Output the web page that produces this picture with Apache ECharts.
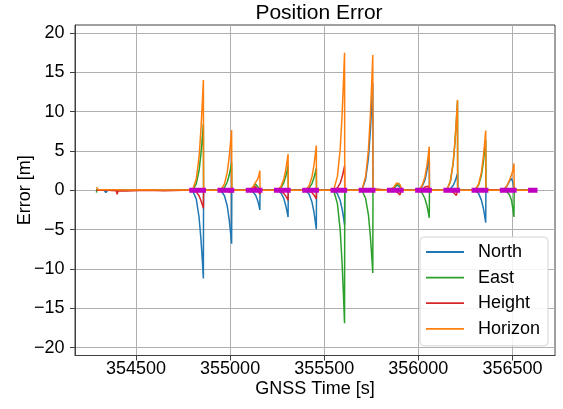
<!DOCTYPE html>
<html>
<head>
<meta charset="utf-8">
<script src="https://cdn.jsdelivr.net/npm/echarts@6/dist/echarts.min.js"></script>
<style>
html,body{margin:0;padding:0;background:#fff;}
#chart{width:563px;height:409px;}
</style>
</head>
<body>
<div id="chart"></div>
<script>
const times = [
  354290,354292,354300,354330,354340,354350,354395,354400,354405,354450,354550,354650,354750,
  354800,354820,354835,354845,354852,354858,354859,
  354950,354970,354985,354995,355002,355008,355009,
  355100,355120,355135,355145,355152,355158,355159,
  355250,355270,355285,355295,355302,355308,355309,
  355400,355420,355435,355445,355452,355458,355459,
  355550,355570,355585,355595,355602,355608,355609,
  355700,355720,355735,355745,355752,355758,355759,
  355850,355870,355885,355895,355902,355908,355909,
  356000,356020,356035,356045,356052,356058,356059,
  356150,356170,356185,356195,356202,356208,356209,
  356300,356320,356335,356345,356352,356358,356359,
  356450,356470,356485,356495,356502,356508,356509,
  356600,356625
];
const north = [
  0,0.05,0,0,-0.3,0,0,0.05,0,0,0.02,0,0,
  0,-1.1,-3.4,-6.2,-8.7,-11.2,0,
  0,-0.7,-2.0,-3.7,-5.3,-6.8,0,
  0,-0.2,-0.6,-1.2,-1.8,-2.5,0,
  0,-0.35,-1.0,-1.9,-2.65,-3.4,0,
  0,-0.5,-1.5,-2.7,-3.9,-4.95,0,
  0,-0.45,-1.3,-2.4,-3.4,-4.4,0,
  0,1.4,4.1,7.5,10.6,13.6,0,
  0,0.3,0.7,0.6,0.4,0.2,0,
  0,0.45,1.3,2.4,3.35,4.3,0,
  0,0.2,0.6,1.15,1.65,2.1,0,
  0,-0.4,-1.25,-2.25,-3.2,-4.1,0,
  0,0.5,1.2,1.5,1.0,0.3,0,
  0,0
];
const east = [
  -0.3,0.1,0,0,0.05,0,0,0,0,0,0,0,0,
  0,0.8,2.5,4.6,6.6,8.4,0,
  0,0.35,1.05,1.9,2.7,3.5,0,
  0,0.3,0.8,0.6,0.3,0.1,0,
  0,0.3,0.95,1.7,2.4,3.1,0,
  0,0.3,0.85,1.55,2.2,2.8,0,
  0,-1.7,-5.1,-9.3,-13.2,-16.9,0,
  0,-1.05,-3.15,-5.8,-8.2,-10.5,0,
  0,0.3,0.6,0.9,0.6,0.3,0,
  0,-0.35,-1.05,-1.9,-2.7,-3.5,0,
  0,1.1,3.4,6.2,8.8,11.3,0,
  0,0.65,1.9,3.5,5.0,6.4,0,
  0,-0.2,-0.6,-1.3,-2.3,-3.4,0,
  0,0
];
const height = [
  0,0,0,0,0,0,-0.05,-0.5,-0.05,-0.1,0,-0.05,0,
  0,-0.2,-0.7,-1.3,-1.8,-2.3,0,
  0,-0.05,-0.1,-0.2,-0.3,-0.4,0,
  0,0.2,0.5,0.3,-0.2,-0.5,0,
  0,-0.15,-0.4,-0.7,-1.0,-1.3,0,
  0,-0.1,-0.3,-0.6,-0.85,-1.1,0,
  0,0.3,0.9,1.7,2.4,3.1,0,
  0,0.05,0.1,0.15,0.2,0.3,0,
  0,-0.05,-0.2,-0.4,-0.6,-0.8,0,
  0,0.1,0.4,0.6,0.5,0.4,0,
  0,-0.1,-0.25,-0.45,-0.65,-0.8,0,
  0,0,0.05,0.1,0.1,0.1,0,
  0,0,0,0,0,0,0,
  0,0
];
const horizon = [
  0.4,0.3,0.05,0.05,0.3,0.05,0.05,0.1,0.05,0.02,0.05,0.03,0.02,
  0,1.4,4.2,7.7,10.9,14.0,0,
  0,0.8,2.3,4.2,6.0,7.65,0,
  0,0.36,1.0,1.34,1.82,2.5,0,
  0,0.46,1.38,2.53,3.58,4.6,0,
  0,0.58,1.72,3.11,4.48,5.69,0,
  0,1.76,5.26,9.6,13.63,17.46,0,
  0,1.75,5.17,9.49,13.45,17.18,0,
  0,0.42,0.92,1.08,0.72,0.36,0,
  0,0.57,1.69,3.06,4.3,5.54,0,
  0,1.12,3.45,6.31,8.95,11.49,0,
  0,0.76,2.27,4.19,5.94,7.6,0,
  0,0.54,1.34,1.98,2.51,3.41,0,
  0,0
];
const outageStart = [354783,354933,355083,355233,355383,355533,355683,355833,355983,356133,356283,356433,356583];
const outageEnd   = [354872,355022,355172,355322,355472,355622,355772,355922,356072,356222,356372,356522,356633];
const xTicks = [354500,355000,355500,356000,356500];
const yTicks = [-20,-15,-10,-5,0,5,10,15,20];
const seriesNames = ['North','East','Height','Horizon'];
const seriesColors = ['#1f77b4','#2ca02c','#d62728','#ff7f0e'];

const FONT = 'Liberation Sans, Arial, sans-serif';
const values = [north, east, height, horizon];
const lineSeries = seriesNames.map((name, k) => ({
  name: name,
  type: 'line',
  symbol: 'none',
  showSymbol: false,
  animation: false,
  color: seriesColors[k],
  itemStyle: {color: seriesColors[k]},
  lineStyle: {width: 1.5, color: seriesColors[k]},
  data: times.map((t, i) => [t, values[k][i]])
}));
const magentaData = [];
outageStart.forEach((s, i) => {
  magentaData.push([s, 0], [outageEnd[i], 0], [outageEnd[i], '-']);
});
lineSeries.push({
  name: 'Outage',
  type: 'line',
  symbol: 'none',
  animation: false,
  connectNulls: false,
  lineStyle: {width: 5, color: '#c000c0', cap: 'butt'},
  data: magentaData
});

const chart = echarts.init(document.getElementById('chart'), null, {renderer: 'canvas'});
chart.setOption({
  animation: false,
  backgroundColor: '#fff',
  textStyle: {fontFamily: FONT},
  title: {
    text: 'Position Error',
    left: 314, top: -2, textAlign: 'center',
    textStyle: {fontFamily: FONT, fontSize: 21, fontWeight: 'normal', color: '#000'}
  },
  grid: {left: 75, right: 8, top: 25, bottom: 53.5, show: true, borderColor: '#404040', borderWidth: 1, backgroundColor: 'transparent'},
  legend: {
    data: seriesNames,
    orient: 'vertical',
    left: 420, top: 237,
    icon: 'rect',
    itemWidth: 38, itemHeight: 1.8, itemGap: 5.6,
    padding: [5, 8, 7, 6],
    backgroundColor: 'rgba(255,255,255,0.85)',
    borderColor: '#d4d4d4', borderWidth: 1, borderRadius: 4,
    textStyle: {fontFamily: FONT, fontSize: 18, color: '#000', lineHeight: 20, padding: [0, 0, 0, 9]}
  },
  xAxis: {
    type: 'value',
    min: 354176, max: 356726,
    splitNumber: 5,
    name: 'GNSS Time [s]', nameLocation: 'middle', nameGap: 25, nameMoveOverlap: false,
    nameTextStyle: {fontFamily: FONT, fontSize: 18, color: '#000'},
    axisLine: {show: true, onZero: false, lineStyle: {color: '#404040', width: 1}},
    axisTick: {show: true, length: 5, inside: false, customValues: xTicks, lineStyle: {color: '#404040'}},
    axisLabel: {customValues: xTicks, fontFamily: FONT, fontSize: 18, color: '#000', margin: 5, formatter: v => String(v)},
    splitLine: {show: true, lineStyle: {color: '#b0b0b0', width: 1}}
  },
  yAxis: {
    type: 'value',
    min: -21, max: 21,
    splitNumber: 8,
    name: 'Error [m]', nameLocation: 'middle', nameGap: 41, nameRotate: 90, nameMoveOverlap: false,
    nameTextStyle: {fontFamily: FONT, fontSize: 18, color: '#000'},
    axisLine: {show: true, onZero: false, lineStyle: {color: '#404040', width: 1}},
    axisTick: {show: true, length: 5, inside: false, customValues: yTicks, lineStyle: {color: '#404040'}},
    axisLabel: {customValues: yTicks, fontFamily: FONT, fontSize: 18, color: '#000', margin: 10.5,
      formatter: v => (v < 0 ? '\u2212' + Math.abs(v) : String(v))},
    splitLine: {show: true, lineStyle: {color: '#b0b0b0', width: 1}}
  },
  series: lineSeries
});
</script>
</body>
</html>
